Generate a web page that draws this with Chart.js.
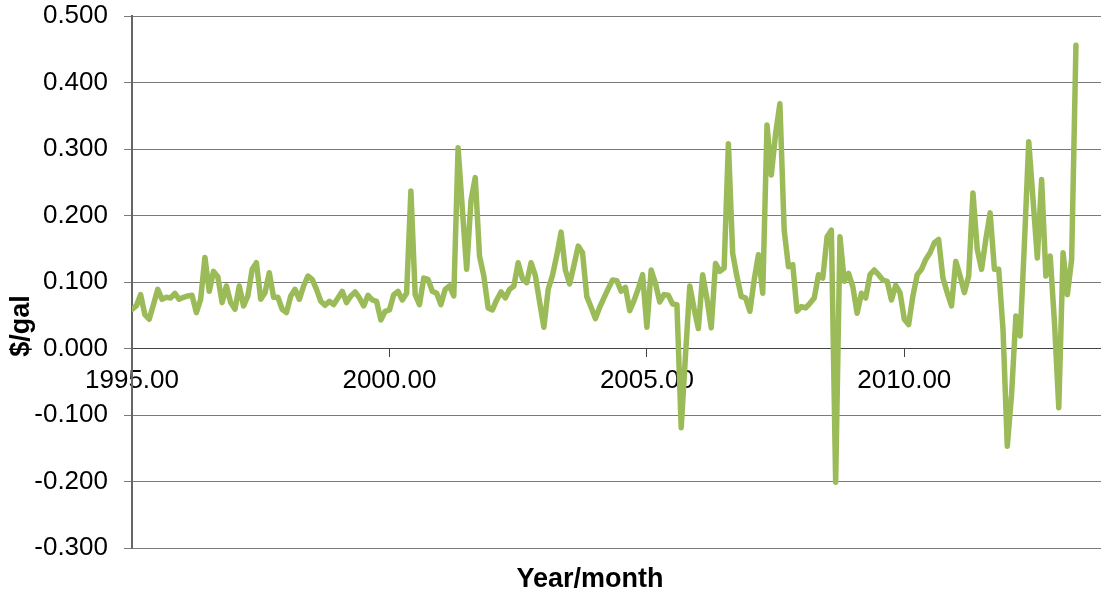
<!DOCTYPE html>
<html>
<head>
<meta charset="utf-8">
<script src="https://cdn.jsdelivr.net/npm/chart.js@4.4.1/dist/chart.umd.min.js"></script>
<style>
  body { margin: 0; background: #fff; }
  #wrap { width: 1101px; height: 596px; position: relative; }
</style>
</head>
<body>
<div id="wrap"><canvas id="spreadChart"></canvas></div>
<script>
// monthly values, Jan 1995 onward ($/gal)
const startYear = 1995;
const monthlySpread = [
  0.059, 0.064, 0.081, 0.051, 0.044, 0.066, 0.089, 0.074, 0.077, 0.076, 0.083, 0.074,
  0.077, 0.079, 0.080, 0.054, 0.074, 0.137, 0.086, 0.116, 0.108, 0.069, 0.094, 0.069,
  0.059, 0.094, 0.064, 0.079, 0.119, 0.129, 0.074, 0.084, 0.114, 0.077, 0.077, 0.059,
  0.054, 0.079, 0.089, 0.074, 0.094, 0.109, 0.104, 0.089, 0.071, 0.065, 0.071, 0.066,
  0.076, 0.086, 0.069, 0.079, 0.085, 0.076, 0.064, 0.080, 0.073, 0.071, 0.043, 0.056,
  0.058, 0.081, 0.086, 0.073, 0.083, 0.237, 0.081, 0.066, 0.106, 0.104, 0.086, 0.083,
  0.066, 0.089, 0.094, 0.079, 0.302, 0.209, 0.119, 0.222, 0.257, 0.139, 0.109, 0.061,
  0.058, 0.073, 0.085, 0.076, 0.089, 0.094, 0.129, 0.105, 0.099, 0.129, 0.110, 0.070,
  0.032, 0.089, 0.110, 0.140, 0.175, 0.118, 0.097, 0.125, 0.154, 0.144, 0.078, 0.062,
  0.045, 0.062, 0.076, 0.090, 0.103, 0.102, 0.086, 0.092, 0.057, 0.072, 0.090, 0.111,
  0.032, 0.118, 0.098, 0.070, 0.081, 0.080, 0.067, 0.066, -0.119, -0.010, 0.094, 0.060,
  0.030, 0.111, 0.075, 0.031, 0.128, 0.116, 0.121, 0.308, 0.143, 0.108, 0.078, 0.076,
  0.056, 0.103, 0.141, 0.083, 0.336, 0.261, 0.323, 0.368, 0.178, 0.123, 0.126, 0.056,
  0.063, 0.061, 0.068, 0.076, 0.111, 0.106, 0.168, 0.178, -0.201, 0.168, 0.101, 0.113,
  0.093, 0.053, 0.083, 0.076, 0.111, 0.118, 0.111, 0.103, 0.101, 0.073, 0.095, 0.084,
  0.044, 0.036, 0.079, 0.111, 0.119, 0.134, 0.144, 0.159, 0.164, 0.106, 0.084, 0.064,
  0.131, 0.109, 0.084, 0.109, 0.234, 0.149, 0.119, 0.164, 0.204, 0.119, 0.119, 0.029,
  -0.147, -0.069, 0.049, 0.019, 0.159, 0.311, 0.224, 0.136, 0.254, 0.109, 0.139, 0.039,
  -0.089, 0.144, 0.081, 0.134, 0.456
];
const xTickYears = [1995, 2000, 2005, 2010];
const yTickValues = [-0.3, -0.2, -0.1, 0, 0.1, 0.2, 0.3, 0.4, 0.5];

const points = monthlySpread.map((v, i) => ({ x: startYear + i / 12, y: v }));

const labelFont = { family: '"Liberation Sans", Arial, sans-serif', size: 26 };
const gridColor = '#7a7a7a';

// axis titles sit where the spreadsheet put them, not centred on the axes
const axisTitles = {
  id: 'axisTitles',
  afterDraw(chart) {
    const ctx = chart.ctx;
    ctx.save();
    ctx.font = 'bold 27px "Liberation Sans", Arial, sans-serif';
    ctx.fillStyle = '#000';
    ctx.textAlign = 'center';
    ctx.textBaseline = 'middle';
    ctx.fillText('Year/month', 590, 580);
    ctx.translate(22, 326);
    ctx.rotate(-Math.PI / 2);
    ctx.fillText('$/gal', 0, 0);
    ctx.restore();
  }
};

new Chart(document.getElementById('spreadChart'), {
  type: 'line',
  data: {
    datasets: [{
      data: points,
      borderColor: '#9bbb59',
      borderWidth: 5.5,
      borderJoinStyle: 'round',
      borderCapStyle: 'round',
      pointRadius: 0,
      tension: 0,
      fill: false
    }]
  },
  options: {
    responsive: true,
    maintainAspectRatio: false,
    animation: false,
    layout: { padding: { top: 16, bottom: 48, left: 0, right: 0 } },
    plugins: { legend: { display: false }, tooltip: { enabled: false } },
    scales: {
      x: {
        type: 'linear',
        position: { y: 0 },
        min: 1995,
        max: 2013.82,
        afterBuildTicks: s => { s.ticks = xTickYears.map(v => ({ value: v })); },
        ticks: {
          color: '#000',
          font: labelFont,
          padding: 9,
          maxRotation: 0,
          callback: v => Number(v).toFixed(2)
        },
        grid: { drawOnChartArea: false, drawTicks: true, tickLength: 8, color: '#444' },
        border: { display: true, color: '#444', width: 1 }
      },
      y: {
        min: -0.3,
        max: 0.5,
        afterBuildTicks: s => { s.ticks = yTickValues.map(v => ({ value: v })); },
        afterFit: s => { s.width = 132; s.paddingTop = 0; s.paddingBottom = 0; },
        ticks: {
          color: '#000',
          font: labelFont,
          padding: 16,
          callback: v => Number(v).toFixed(3)
        },
        grid: { color: gridColor, lineWidth: 1, tickLength: 8 },
        border: { color: '#666', width: 2 }
      }
    }
  },
  plugins: [axisTitles]
});
</script>
</body>
</html>
